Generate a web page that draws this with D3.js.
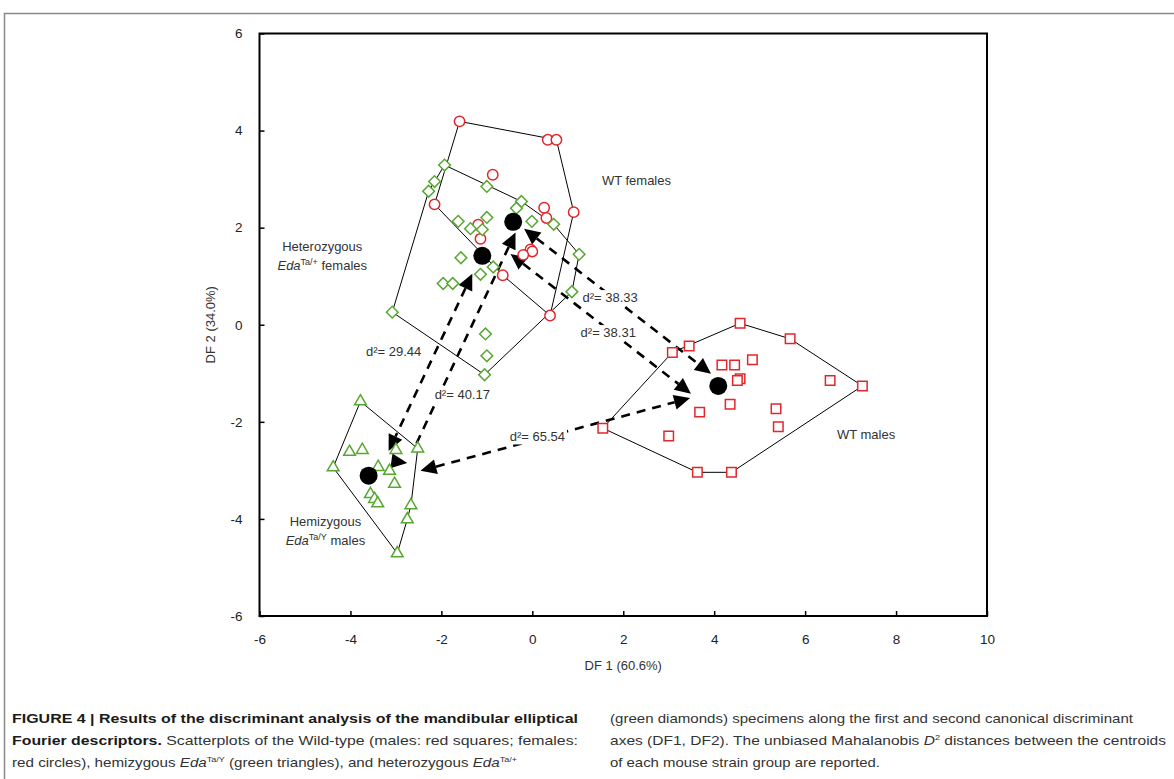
<!DOCTYPE html>
<html>
<head>
<meta charset="utf-8">
<script src="https://cdn.jsdelivr.net/npm/d3@7"></script>
<style>
body { margin: 0; background: #fff; }
svg { display: block; }
.tick text { font-family: Arial, "Liberation Sans", sans-serif; font-size: 13.5px; fill: #222; }
.lbl { font-family: Arial, "Liberation Sans", sans-serif; font-size: 13px; fill: #333; }
.cap { font-family: "Liberation Sans Narrow", "Arial Narrow", Arial, "Liberation Sans", sans-serif; font-size: 13.5px; fill: #333; }
</style>
</head>
<body>
<div id="chart"></div>
<script>
// axis ticks
var xTicks = [-6, -4, -2, 0, 2, 4, 6, 8, 10];
var yTicks = [-6, -4, -2, 0, 2, 4, 6];

// WT males (red squares)
var wtMales = [[4.57,0.03],[5.67,-0.29],[3.45,-0.44],[3.08,-0.57],[4.17,-0.83],[4.45,-0.83],[4.84,-0.72],
  [4.57,-1.11],[4.51,-1.15],[6.55,-1.15],[7.26,-1.26],[3.68,-1.80],[4.35,-1.64],[5.36,-1.73],[5.41,-2.10],
  [3.00,-2.29],[1.55,-2.13],[3.63,-3.04],[4.38,-3.04]];

// WT females (red circles)
var wtFemales = [[-1.60,4.19],[0.34,3.81],[0.53,3.81],[0.91,2.32],[-0.87,3.09],[-2.15,2.48],[0.26,2.41],
  [0.31,2.20],[-1.19,2.06],[-1.14,1.77],[-0.04,1.55],[0.0,1.51],[-0.20,1.44],[-0.65,1.02],[0.39,0.19]];

// heterozygous Eda Ta/+ females (green diamonds)
var hetFemales = [[-1.93,3.29],[-2.15,2.95],[-2.28,2.75],[-1.00,2.85],[-0.24,2.54],[-0.35,2.40],[-1.63,2.13],
  [-1.00,2.21],[-1.36,1.98],[-1.10,1.96],[-0.01,2.13],[0.47,2.07],[1.03,1.45],[-1.57,1.38],[-0.86,1.19],
  [-1.14,1.04],[-1.96,0.85],[-1.75,0.85],[0.87,0.68],[-3.08,0.26],[-1.03,-0.19],[-1.00,-0.64],[-1.05,-1.03]];

// hemizygous Eda Ta/Y males (green triangles)
var hemMales = [[-3.78,-1.58],[-4.38,-2.94],[-4.02,-2.62],[-3.74,-2.58],[-3.00,-2.58],[-2.52,-2.55],
  [-3.39,-2.93],[-3.14,-3.01],[-3.03,-3.28],[-3.56,-3.49],[-3.47,-3.59],[-3.40,-3.68],[-2.67,-3.72],
  [-2.75,-4.01],[-2.97,-4.71]];

// group centroids
var centroids = [[-0.42,2.12],[-1.10,1.42],[4.09,-1.26],[-3.60,-3.11]];

// Mahalanobis distance arrows
var arrowLabels = ["d²= 38.33", "d²= 38.31", "d²= 29.44", "d²= 40.17", "d²= 65.54"];
var arrowFrom = [[-0.18,1.98],[-0.48,1.46],[-1.32,1.05],[-0.37,1.90],[-2.46,-3.01]];
var arrowTo = [[3.93,-1.01],[3.49,-1.42],[-3.16,-2.60],[-2.75,-2.85],[3.47,-1.51]];
var arrowLabelPos = [[1.71,0.56],[1.67,-0.16],[-3.05,-0.56],[-1.54,-1.44],[0.11,-2.31]];
// the 40.17 head at the hemizygous end is drawn turned to the right in the original
var arrowToHeadDeg = [null, null, null, 8, null];

var width = 1174, height = 779;
var svg = d3.select("#chart").append("svg")
    .attr("width", width)
    .attr("height", height);

// figure frame
svg.append("path")
    .attr("d", "M4.5,779 V13.5 H1174")
    .attr("fill", "none")
    .attr("stroke", "#8a8a8a")
    .attr("stroke-width", 1.5);

var x = d3.scaleLinear().domain([-6, 10]).range([259.5, 987]);
var y = d3.scaleLinear().domain([-6, 6]).range([616, 33.5]);

var red = "#e3262b", green = "#58a732";

// axes, ticks pointing inward
svg.append("g")
    .attr("transform", "translate(0," + y(-6) + ")")
    .call(d3.axisBottom(x).tickValues(xTicks).tickSize(-5).tickPadding(18).tickFormat(function(d){ return String(d); }));
svg.append("g")
    .attr("transform", "translate(" + x(-6) + ",0)")
    .call(d3.axisLeft(y).tickValues(yTicks).tickSize(-5).tickPadding(17).tickFormat(function(d){ return String(d); }));
svg.selectAll(".domain").remove();
svg.selectAll(".tick line").attr("stroke", "#000").attr("stroke-width", 1.5);

svg.append("rect")
    .attr("x", x(-6)).attr("y", y(6))
    .attr("width", x(10) - x(-6)).attr("height", y(-6) - y(6))
    .attr("fill", "none").attr("stroke", "#000").attr("stroke-width", 2);

svg.append("text").attr("class", "lbl")
    .attr("x", (x(-6) + x(10)) / 2).attr("y", 670)
    .attr("text-anchor", "middle")
    .text("DF 1 (60.6%)");
svg.append("text").attr("class", "lbl")
    .attr("transform", "translate(215," + ((y(6) + y(-6)) / 2) + ") rotate(-90)")
    .attr("text-anchor", "middle")
    .text("DF 2 (34.0%)");

// convex hulls
var hullG = svg.append("g");
[wtMales, wtFemales, hetFemales, hemMales].forEach(function(grp){
    var hull = d3.polygonHull(grp.map(function(d){ return [x(d[0]), y(d[1])]; }));
    hullG.append("path")
        .attr("d", "M" + hull.join("L") + "Z")
        .attr("fill", "none")
        .attr("stroke", "#000")
        .attr("stroke-width", 1);
});

// arrows
var arrowG = svg.append("g");
var labelG = svg.append("g");
var headLen = 16, headW = 7.5;
function head(tx, ty, a){
    var hc = Math.cos(a), hs = Math.sin(a);
    var bx = tx - hc * headLen, by = ty - hs * headLen;
    arrowG.append("path")
        .attr("d", "M" + tx + "," + ty +
            "L" + (bx - hs * headW) + "," + (by + hc * headW) +
            "L" + (bx + hs * headW) + "," + (by - hc * headW) + "Z")
        .attr("fill", "#000");
}
arrowFrom.forEach(function(a, i){
    var b = arrowTo[i];
    var x1 = x(a[0]), y1 = y(a[1]), x2 = x(b[0]), y2 = y(b[1]);
    var ang = Math.atan2(y2 - y1, x2 - x1);
    var c = Math.cos(ang), s = Math.sin(ang);
    arrowG.append("line")
        .attr("x1", x1 + c * headLen).attr("y1", y1 + s * headLen)
        .attr("x2", x2 - c * headLen).attr("y2", y2 - s * headLen)
        .attr("stroke", "#000")
        .attr("stroke-width", 2.6)
        .attr("stroke-dasharray", "9,7");
    head(x2, y2, arrowToHeadDeg[i] == null ? ang : arrowToHeadDeg[i] * Math.PI / 180);
    head(x1, y1, ang + Math.PI);

    var t = labelG.append("text").attr("class", "lbl")
        .attr("x", x(arrowLabelPos[i][0])).attr("y", y(arrowLabelPos[i][1]))
        .attr("dy", "0.35em")
        .attr("text-anchor", "middle")
        .text(arrowLabels[i]);
    var bb = t.node().getBBox();
    labelG.insert("rect", "text")
        .attr("x", bb.x - 2).attr("y", bb.y)
        .attr("width", bb.width + 4).attr("height", bb.height)
        .attr("fill", "#fff");
});

// markers
function drawPoints(data, type, size, rot, color){
    svg.append("g").selectAll("path")
        .data(data)
        .enter().append("path")
        .attr("d", d3.symbol().type(type).size(size))
        .attr("transform", function(d){ return "translate(" + x(d[0]) + "," + y(d[1]) + ") rotate(" + rot + ")"; })
        .attr("fill", "#fff")
        .attr("stroke", color)
        .attr("stroke-width", 1.5);
}
drawPoints(wtMales, d3.symbolSquare, 90, 0, red);
drawPoints(wtFemales, d3.symbolCircle, 85, 0, red);
drawPoints(hetFemales, d3.symbolSquare, 68, 45, green);
drawPoints(hemMales, d3.symbolTriangle, 60, 0, green);

svg.append("g").selectAll("circle")
    .data(centroids)
    .enter().append("circle")
    .attr("cx", function(d){ return x(d[0]); })
    .attr("cy", function(d){ return y(d[1]); })
    .attr("r", 9)
    .attr("fill", "#000");

// group labels
function groupLabel(px, py, lines){
    var t = svg.append("text").attr("class", "lbl")
        .attr("text-anchor", "middle");
    lines.forEach(function(l, i){
        var row = t.append("tspan").attr("x", x(px)).attr("y", y(py) + i * 19);
        if (typeof l === "string") {
            row.text(l);
        } else {
            row.append("tspan").attr("font-style", "italic").text("Eda");
            row.append("tspan").attr("font-size", "9px").attr("dy", "-5").text(l.sup);
            row.append("tspan").attr("dy", "5").text(" " + l.rest);
        }
    });
}
groupLabel(2.29, 2.88, ["WT females"]);
groupLabel(-4.62, 1.52, ["Heterozygous", {sup: "Ta/+", rest: "females"}]);
groupLabel(7.34, -2.36, ["WT males"]);
groupLabel(-4.55, -4.15, ["Hemizygous", {sup: "Ta/Y", rest: "males"}]);

// caption
var cap = svg.append("g");
function capLine(xPos, yPos, len, parts){
    var t = cap.append("text").attr("class", "cap")
        .attr("x", xPos).attr("y", yPos);
    if (len) t.attr("textLength", len).attr("lengthAdjust", "spacingAndGlyphs");
    parts.forEach(function(p){
        var s = t.append("tspan").text(p.t);
        if (p.b) s.attr("font-weight", "bold").style("fill", "#1a1a1a");
        if (p.i) s.attr("font-style", "italic");
        if (p.sup) s.attr("font-size", "8px").attr("dy", "-5");
        if (p.down) s.attr("dy", "5");
    });
}
capLine(12, 723, 566, [{t: "FIGURE 4 | Results of the discriminant analysis of the mandibular elliptical", b: 1}]);
capLine(12, 745, 566, [{t: "Fourier descriptors.", b: 1}, {t: " Scatterplots of the Wild-type (males: red squares; females:"}]);
capLine(12, 767, 505, [{t: "red circles), hemizygous "}, {t: "Eda", i: 1}, {t: "Ta/Y", sup: 1},
    {t: " (green triangles), and heterozygous ", down: 1}, {t: "Eda", i: 1}, {t: "Ta/+", sup: 1}]);
capLine(610, 723, 523, [{t: "(green diamonds) specimens along the first and second canonical discriminant"}]);
capLine(610, 745, 556, [{t: "axes (DF1, DF2). The unbiased Mahalanobis "}, {t: "D", i: 1}, {t: "2", sup: 1},
    {t: " distances between the centroids", down: 1}]);
capLine(610, 767, 270, [{t: "of each mouse strain group are reported."}]);
</script>
</body>
</html>
